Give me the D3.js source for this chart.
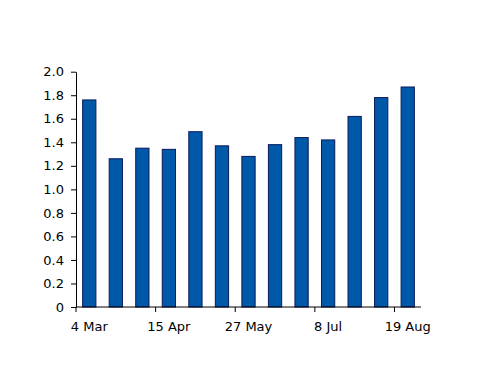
<!DOCTYPE html>
<html><head><meta charset="utf-8">
<script src="https://cdn.jsdelivr.net/npm/d3@7"></script>
<style>body{margin:0;background:#fff}text{font-family:"DejaVu Sans",Verdana,sans-serif;}</style>
</head><body><svg id="c" width="500" height="386"></svg>
<script>
const categories = ["4 Mar","18 Mar","1 Apr","15 Apr","29 Apr","13 May","27 May","10 Jun","24 Jun","8 Jul","22 Jul","5 Aug","19 Aug"];
const values = [1.76,1.26,1.35,1.34,1.49,1.37,1.28,1.38,1.44,1.42,1.62,1.78,1.87];
const yTicks = [0,0.2,0.4,0.6,0.8,1.0,1.2,1.4,1.6,1.8,2.0];
const shownLabels = ["4 Mar","15 Apr","27 May","8 Jul","19 Aug"];

const svg = d3.select("#c");
const L = 76, R = 421, T = 71.7, B = 307;
const x = d3.scaleBand().domain(categories).range([L, R]).padding(0);
const y = d3.scaleLinear().domain([0, 2]).range([B, T]);

svg.append("g").selectAll("rect").data(values).join("rect")
  .attr("x", (d,i) => x(categories[i]) + x.bandwidth()*0.25)
  .attr("width", x.bandwidth()*0.5)
  .attr("y", d => y(d))
  .attr("height", d => B - y(d))
  .attr("fill", "#0058a8")
  .attr("stroke", "#0a1a5a")
  .attr("stroke-width", 1);

// y axis
const ya = svg.append("g").attr("transform", `translate(${L},0)`)
  .call(d3.axisLeft(y).tickValues(yTicks).tickSize(5).tickSizeOuter(0)
    .tickFormat(d => d === 0 ? "0" : d3.format(".1f")(d)));
ya.select(".domain").attr("stroke", "#000");
ya.selectAll("text").attr("font-size", 13).attr("fill", "#000").attr("x", -12);

// x axis: ticks at band boundaries every 3rd, labels centered on bars
const xa = svg.append("g").attr("transform", `translate(0,${B})`);
xa.append("line").attr("x1", L).attr("x2", R).attr("y1", 0).attr("y2", 0).attr("stroke", "#000");
xa.selectAll("line.tk").data(shownLabels).join("line").attr("class","tk")
  .attr("x1", d => x(d)).attr("x2", d => x(d)).attr("y1", 0).attr("y2", 5).attr("stroke", "#000");
xa.selectAll("text").data(shownLabels).join("text")
  .attr("x", d => x(d) + x.bandwidth()/2)
  .attr("y", 24)
  .attr("text-anchor", "middle")
  .attr("font-size", 13)
  .attr("fill", "#000")
  .text(d => d);
</script></body></html>
